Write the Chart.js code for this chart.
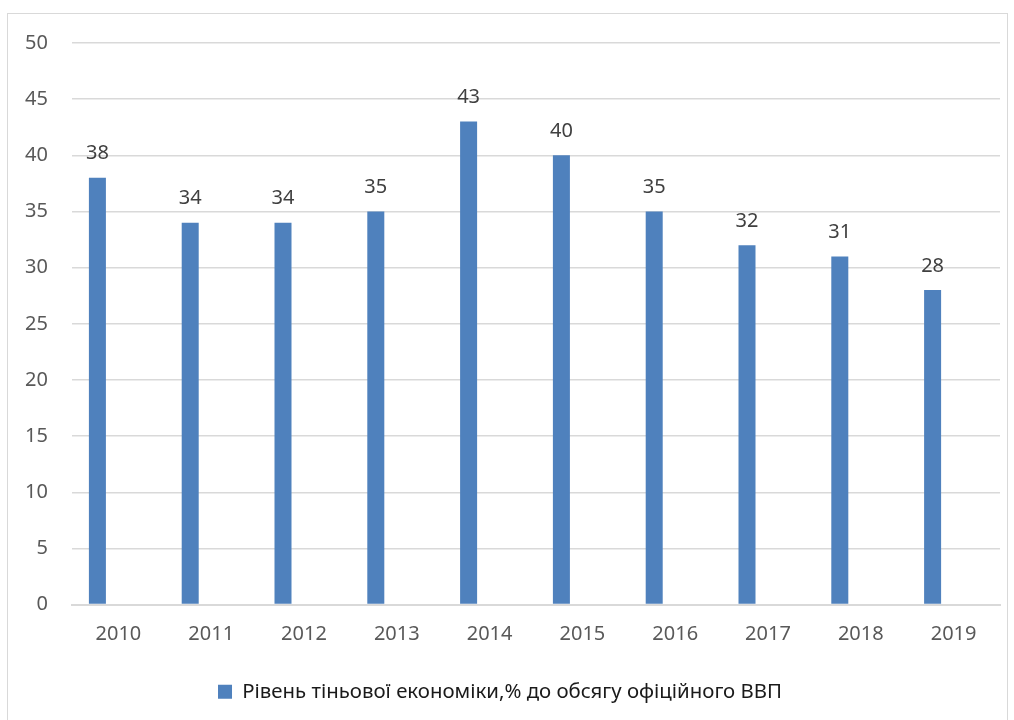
<!DOCTYPE html>
<html>
<head>
<meta charset="utf-8">
<script src="https://cdn.jsdelivr.net/npm/chart.js@4/dist/chart.umd.min.js"></script>
<style>
  html, body { margin: 0; padding: 0; background: #fff; }
  #frame {
    position: absolute; left: 7px; top: 13px; width: 1001px; height: 720px;
    border: 1px solid #d9d9d9; box-sizing: border-box;
  }
  #wrap { position: absolute; left: 0; top: 0; width: 1014px; height: 720px; }
</style>
</head>
<body>
<div id="frame"></div>
<div id="wrap"><canvas id="shadowChart"></canvas></div>
<script>
const years = ['2010', '2011', '2012', '2013', '2014', '2015', '2016', '2017', '2018', '2019'];
const shadowShare = [38, 34, 34, 35, 43, 40, 35, 32, 31, 28];
const emptySeries = [null, null, null, null, null, null, null, null, null, null];
const yTicks = [0, 5, 10, 15, 20, 25, 30, 35, 40, 45, 50];
const seriesLabel = 'Рівень тіньової економіки,% до обсягу офіційного ВВП';

const FONT = '"Noto Sans", "Open Sans", sans-serif';

// value labels above the bars
const barValues = {
  id: 'barValues',
  afterDatasetsDraw(chart) {
    const ctx = chart.ctx;
    const meta = chart.getDatasetMeta(0);
    ctx.save();
    ctx.font = '20px ' + FONT;
    ctx.fillStyle = '#404040';
    ctx.textAlign = 'center';
    ctx.textBaseline = 'middle';
    meta.data.forEach((bar, i) => {
      ctx.fillText(String(shadowShare[i]), bar.x, bar.y - 24);
    });
    ctx.restore();
  }
};

const ctx = document.getElementById('shadowChart');
new Chart(ctx, {
  type: 'bar',
  data: {
    labels: years,
    datasets: [
      {
        label: seriesLabel,
        data: shadowShare,
        backgroundColor: '#4f81bd',
        categoryPercentage: 0.905,
        barPercentage: 0.405,
      },
      {
        label: 'empty',
        data: emptySeries,
        backgroundColor: 'rgba(0,0,0,0)',
        categoryPercentage: 0.905,
        barPercentage: 0.405,
      },
    ],
  },
  options: {
    responsive: true,
    maintainAspectRatio: false,
    animation: false,
    layout: { padding: { top: 43, right: 14, bottom: 8, left: 0 } },
    plugins: {
      legend: {
        position: 'bottom',
        labels: {
          filter: item => item.datasetIndex === 0,
          boxWidth: 14,
          boxHeight: 14,
          padding: 10,
          color: '#1a1a1a',
          font: { family: FONT, size: 20.4 },
        },
      },
      tooltip: { enabled: false },
    },
    scales: {
      x: {
        grid: { display: false, drawTicks: false },
        border: { color: '#d9d9d9', width: 2 },
        ticks: { color: '#595959', font: { family: FONT, size: 20 }, padding: 18 },
        afterFit: scale => { scale.height = 67; },
      },
      y: {
        min: 0,
        max: 50,
        afterBuildTicks: scale => { scale.ticks = yTicks.map(v => ({ value: v })); },
        grid: { color: '#d9d9d9', lineWidth: 1.5, drawTicks: false },
        border: { display: false },
        ticks: { color: '#595959', font: { family: FONT, size: 20 }, padding: 24 },
        afterFit: scale => { scale.width = 72; },
      },
    },
  },
  plugins: [barValues],
});
</script>
</body>
</html>
